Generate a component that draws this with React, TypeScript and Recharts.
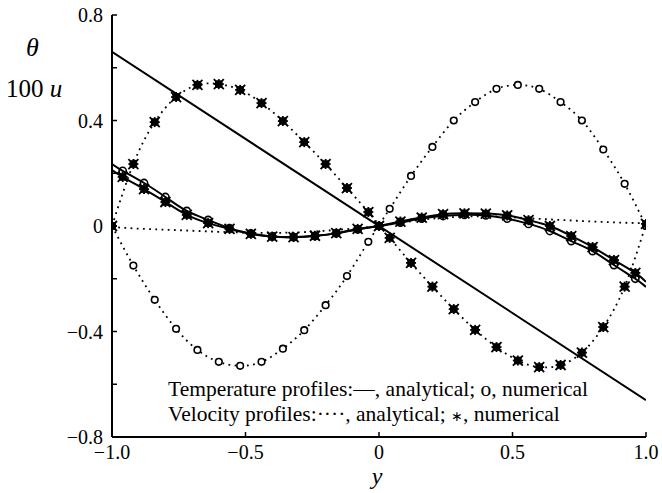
import React from 'react'
import { ComposedChart, Line, Scatter, XAxis, YAxis } from 'recharts'

// grid of the velocity (sine-like) profiles, step 0.08 from -1
const velGrid = [
  -1, -0.92, -0.84, -0.76, -0.68, -0.6, -0.52, -0.44, -0.36, -0.28, -0.2, -0.12, -0.04,
  0.04, 0.12, 0.2, 0.28, 0.36, 0.44, 0.52, 0.6, 0.68, 0.76, 0.84, 0.92, 1,
]
const velCircles = [
  0, -0.15, -0.28, -0.39, -0.47, -0.515, -0.53, -0.515, -0.465, -0.395, -0.3, -0.19, -0.06,
  0.065, 0.19, 0.3, 0.4, 0.47, 0.52, 0.535, 0.52, 0.47, 0.4, 0.29, 0.16, 0,
]
const velStars = [
  0, 0.235, 0.394, 0.489, 0.535, 0.538, 0.516, 0.466, 0.398, 0.318, 0.235, 0.144, 0.053,
  -0.045, -0.14, -0.23, -0.315, -0.394, -0.459, -0.51, -0.535, -0.527, -0.48, -0.383, -0.23, 0.008,
]

// grid of the temperature (cubic-like) profiles, step 0.08 about 0, plus the walls
const tempGrid = [
  -1, -0.96, -0.88, -0.8, -0.72, -0.64, -0.56, -0.48, -0.4, -0.32, -0.24, -0.16, -0.08, 0,
  0.08, 0.16, 0.24, 0.32, 0.4, 0.48, 0.56, 0.64, 0.72, 0.8, 0.88, 0.96, 1,
]
const tempCircles = [
  0.235, 0.209, 0.163, 0.11, 0.057, 0.023, -0.008, -0.028, -0.04, -0.042, -0.038, -0.028, -0.013, 0,
  0.013, 0.028, 0.038, 0.042, 0.04, 0.028, 0.008, -0.019, -0.057, -0.095, -0.148, -0.2, -0.231,
]
const tempStars = [
  0.212, 0.186, 0.14, 0.091, 0.042, 0.011, -0.011, -0.03, -0.04, -0.042, -0.037, -0.027, -0.011, 0,
  0.017, 0.032, 0.045, 0.048, 0.047, 0.04, 0.022, 0, -0.038, -0.08, -0.129, -0.178, -0.212,
]

// nearly flat dotted velocity profile
const flatGrid = [-1, -0.9, -0.8, -0.7, -0.6, -0.5, -0.4, -0.3, -0.2, -0.1, 0, 0.1, 0.2, 0.3, 0.4, 0.5, 0.6, 0.7, 0.8, 0.9, 1]
const flatValues = [
  -0.004, -0.01, -0.014, -0.018, -0.022, -0.025, -0.026, -0.024, -0.018, -0.01, 0,
  0.015, 0.028, 0.035, 0.037, 0.033, 0.027, 0.022, 0.017, 0.013, 0.01,
]

// straight solid temperature line
const linearGrid = [-1, 1]
const linearValues = [0.66, -0.66]

const xTicks = [-1, -0.5, 0, 0.5, 1]
const xLabels = ['−1.0', '−0.5', '0', '0.5', '1.0']
const yTicks = [-0.8, -0.6, -0.4, -0.2, 0, 0.2, 0.4, 0.6, 0.8]
const yLabels = ['−0.8', '', '−0.4', '', '0', '', '0.4', '', '0.8']

const FONT = '"Liberation Serif", "Times New Roman", serif'

const zip = (xs: number[], vs: number[]) => xs.map((x, i) => ({ x, v: vs[i] }))
const inner = (pts: { x: number; v: number }[]) => pts.filter((p) => Math.abs(p.x) < 1)

function BottomTick(props: any) {
  const { x, y, payload } = props
  const label = xLabels[xTicks.indexOf(payload.value)]
  return (
    <g>
      <line x1={x} y1={y} x2={x} y2={y - 5} stroke="#000" strokeWidth={1.5} />
      <text x={x} y={y + 22} textAnchor="middle" fontFamily={FONT} fontSize={20} fill="#000">
        {label}
      </text>
    </g>
  )
}

function TopTick(props: any) {
  const { x, y } = props
  return <line x1={x} y1={y} x2={x} y2={y + 5} stroke="#000" strokeWidth={1.5} />
}

function LeftTick(props: any) {
  const { x, y, payload } = props
  const idx = yTicks.findIndex((t) => Math.abs(t - payload.value) < 1e-9)
  return (
    <g>
      <line x1={x} y1={y} x2={x + 5} y2={y} stroke="#000" strokeWidth={1.5} />
      <text x={x - 9} y={y + 7} textAnchor="end" fontFamily={FONT} fontSize={20} fill="#000">
        {idx >= 0 ? yLabels[idx] : ''}
      </text>
    </g>
  )
}

function RightTick(props: any) {
  const { x, y } = props
  return <line x1={x} y1={y} x2={x - 5} y2={y} stroke="#000" strokeWidth={1.5} />
}

function OpenCircle(props: any) {
  const { cx, cy } = props
  return <circle cx={cx} cy={cy} r={3.3} fill="#fff" stroke="#000" strokeWidth={1.6} />
}

function RingCircle(props: any) {
  const { cx, cy } = props
  return <circle cx={cx} cy={cy} r={3.6} fill="none" stroke="#000" strokeWidth={1.6} />
}

function StarMark(props: any) {
  const { cx, cy } = props
  const s = 5
  return (
    <g stroke="#000" strokeWidth={1.8}>
      <rect x={cx - 3.8} y={cy - 3.8} width={7.6} height={7.6} fill="#000" stroke="none" />
      <line x1={cx - s} y1={cy} x2={cx + s} y2={cy} />
      <line x1={cx} y1={cy - s} x2={cx} y2={cy + s} />
      <line x1={cx - s} y1={cy - s} x2={cx + s} y2={cy + s} />
      <line x1={cx - s} y1={cy + s} x2={cx + s} y2={cy - s} />
    </g>
  )
}

export default function App() {
  const circSine = zip(velGrid, velCircles)
  const starSine = zip(velGrid, velStars)
  const circCubic = zip(tempGrid, tempCircles)
  const starCubic = zip(tempGrid, tempStars)
  const flat = zip(flatGrid, flatValues)
  const linear = zip(linearGrid, linearValues)

  const dotted = { stroke: '#000', strokeWidth: 1.8, strokeDasharray: '1.8 4.4' }

  return (
    <div style={{ position: 'absolute', left: 0, top: 0, width: 662, height: 493, background: '#fff' }}>
      <ComposedChart width={662} height={493} margin={{ top: 15, right: 16, bottom: 16, left: 52 }}>
        <XAxis
          xAxisId="b"
          dataKey="x"
          type="number"
          domain={[-1, 1]}
          ticks={xTicks}
          height={40}
          tickSize={0}
          tickMargin={0}
          tickLine={false}
          tick={<BottomTick />}
          axisLine={{ stroke: '#000', strokeWidth: 2 }}
          allowDataOverflow
        />
        <XAxis
          xAxisId="t"
          orientation="top"
          dataKey="x"
          type="number"
          domain={[-1, 1]}
          ticks={xTicks}
          height={0}
          tickSize={0}
          tickMargin={0}
          tickLine={false}
          tick={<TopTick />}
          axisLine={{ stroke: '#000', strokeWidth: 2 }}
          allowDataOverflow
        />
        <YAxis
          yAxisId="l"
          type="number"
          domain={[-0.8, 0.8]}
          ticks={yTicks}
          width={60}
          tickSize={0}
          tickMargin={0}
          tickLine={false}
          tick={<LeftTick />}
          axisLine={{ stroke: '#000', strokeWidth: 2 }}
          allowDataOverflow
        />
        <YAxis
          yAxisId="r"
          orientation="right"
          type="number"
          domain={[-0.8, 0.8]}
          ticks={yTicks}
          width={0}
          tickSize={0}
          tickMargin={0}
          tickLine={false}
          tick={<RightTick />}
          axisLine={{ stroke: '#000', strokeWidth: 2 }}
          allowDataOverflow
        />

        {/* analytical velocity profiles (dotted) */}
        <Line xAxisId="b" yAxisId="l" data={circSine} dataKey="v" type="natural" {...dotted} dot={false} activeDot={false} isAnimationActive={false} />
        <Line xAxisId="b" yAxisId="l" data={starSine} dataKey="v" type="natural" {...dotted} dot={false} activeDot={false} isAnimationActive={false} />
        <Line xAxisId="b" yAxisId="l" data={flat} dataKey="v" type="natural" {...dotted} dot={false} activeDot={false} isAnimationActive={false} />

        {/* analytical temperature profiles (solid) */}
        <Line xAxisId="b" yAxisId="l" data={linear} dataKey="v" type="linear" stroke="#000" strokeWidth={2} dot={false} activeDot={false} isAnimationActive={false} />
        <Line xAxisId="b" yAxisId="l" data={circCubic} dataKey="v" type="natural" stroke="#000" strokeWidth={2} dot={false} activeDot={false} isAnimationActive={false} />
        <Line xAxisId="b" yAxisId="l" data={starCubic} dataKey="v" type="natural" stroke="#000" strokeWidth={2} dot={false} activeDot={false} isAnimationActive={false} />

        {/* numerical results */}
        <Scatter xAxisId="b" yAxisId="l" data={circSine} dataKey="v" shape={<OpenCircle />} isAnimationActive={false} />
        <Scatter xAxisId="b" yAxisId="l" data={starSine} dataKey="v" shape={<StarMark />} isAnimationActive={false} />
        <Scatter xAxisId="b" yAxisId="l" data={inner(circCubic)} dataKey="v" shape={<RingCircle />} isAnimationActive={false} />
        <Scatter xAxisId="b" yAxisId="l" data={inner(starCubic)} dataKey="v" shape={<StarMark />} isAnimationActive={false} />
      </ComposedChart>

      <svg
        width={662}
        height={493}
        style={{ position: 'absolute', left: 0, top: 0, pointerEvents: 'none' }}
        fontFamily={FONT}
      >
        <text x={26} y={56} fontSize={26} fontStyle="italic">θ</text>
        <text x={6} y={97} fontSize={25}>
          100 <tspan fontStyle="italic">u</tspan>
        </text>
        <text x={377} y={484} fontSize={24} fontStyle="italic" textAnchor="middle">y</text>
        <text x={168} y={396} fontSize={21.5}>
          <tspan x={168} y={396}>Temperature profiles:—, analytical; o, numerical</tspan>
          <tspan x={168} y={421}>
            Velocity profiles:····, analytical; <tspan fontSize={14}>∗</tspan>, numerical
          </tspan>
        </text>
      </svg>
    </div>
  )
}
